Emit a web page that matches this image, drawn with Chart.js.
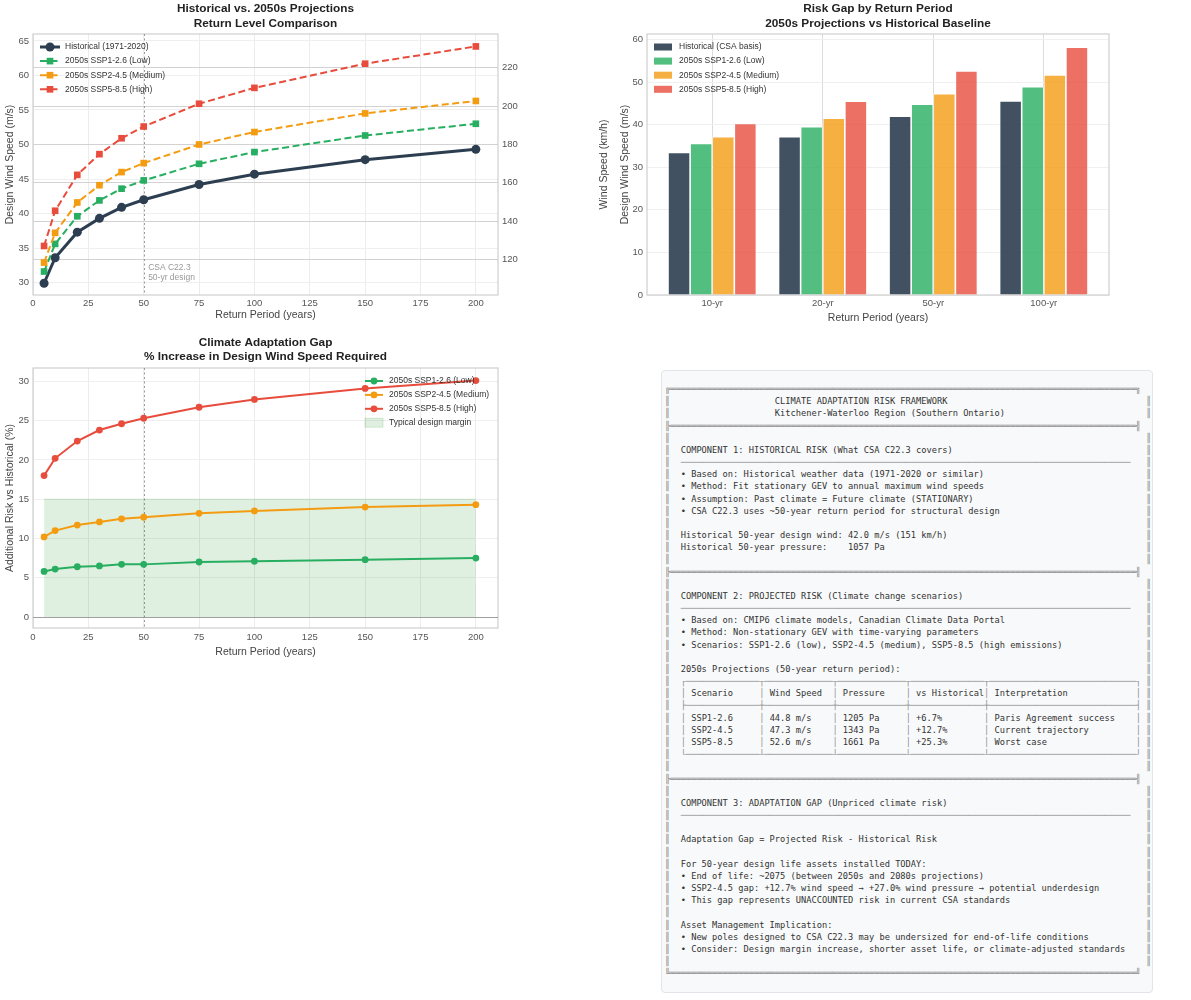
<!DOCTYPE html>
<html>
<head>
<meta charset="utf-8">
<title>Climate adaptation risk</title>
<script src="https://cdn.jsdelivr.net/npm/chart.js@4.4.1/dist/chart.umd.min.js"></script>
<style>
  html, body { margin: 0; padding: 0; background: #fff; }
  body { position: relative; width: 1191px; height: 1000px; overflow: hidden; }
  canvas { position: absolute; }
  #returnChart { left: 0; top: 0; }
  #gapChart { left: 600px; top: 0; }
  #pctChart { left: 0; top: 330px; }
  #framework {
    position: absolute; left: 661px; top: 370px; width: 492px; height: 623px;
    box-sizing: border-box; background: #f8f9fa; border: 1px solid #e1e4e8; border-radius: 4px;
  }
  #framework pre {
    position: absolute; left: 3px; top: 12px; margin: 0;
    font: 8.7px/12.17px "DejaVu Sans Mono", monospace; color: #333; white-space: pre;
  }
  #framework .b { color: #8a8a8a; }
</style>
</head>
<body>
<canvas id="returnChart" width="620" height="330"></canvas>
<canvas id="gapChart" width="591" height="330"></canvas>
<canvas id="pctChart" width="600" height="330"></canvas>
<div id="framework"><pre id="frameworkText"></pre></div>

<script>
// return periods (years) used by the line charts
const returnPeriods = [5, 10, 20, 30, 40, 50, 75, 100, 150, 200];

// design wind speed (m/s)
const historical = [29.9, 33.6, 37.3, 39.3, 40.9, 42.0, 44.2, 45.7, 47.8, 49.3];
const ssp126 = [31.6, 35.6, 39.6, 41.9, 43.6, 44.8, 47.2, 48.9, 51.3, 53.0];
const ssp245 = [32.9, 37.2, 41.6, 44.1, 46.0, 47.3, 50.0, 51.8, 54.5, 56.3];
const ssp585 = [35.3, 40.4, 45.6, 48.6, 50.9, 52.6, 55.9, 58.2, 61.7, 64.2];

// % increase vs historical
const pctSsp126 = [5.8, 6.1, 6.4, 6.5, 6.7, 6.7, 7.0, 7.1, 7.3, 7.5];
const pctSsp245 = [10.2, 11.0, 11.7, 12.1, 12.5, 12.7, 13.2, 13.5, 14.0, 14.3];
const pctSsp585 = [18.0, 20.2, 22.4, 23.8, 24.6, 25.3, 26.7, 27.7, 29.1, 30.1];
const marginPct = 15;
const marginSpan = [5, 200];

// bar chart
const barCategories = ["10-yr", "20-yr", "50-yr", "100-yr"];
const barHistorical = [33.5, 37.2, 42.0, 45.6];
const barSsp126 = [35.6, 39.5, 44.8, 48.9];
const barSsp245 = [37.2, 41.5, 47.3, 51.7];
const barSsp585 = [40.3, 45.5, 52.6, 58.2];

const csaPeriod = 50;
const KMH = 3.6;

const FONT = '"Liberation Sans", Arial, sans-serif';
Chart.defaults.font.family = FONT;
Chart.defaults.color = "#555";

const NAVY = "#2c3e50", GREEN = "#27ae60", ORANGE = "#f39c12", RED = "#e74c3c";
const rgba = (hex, a) => {
  const n = parseInt(hex.slice(1), 16);
  return `rgba(${n >> 16}, ${(n >> 8) & 255}, ${n & 255}, ${a})`;
};
const xy = (xs, ys) => ys.map((v, i) => ({ x: xs[i], y: v }));

// legend drawn inside the plot, matplotlib style
function drawLegend(chart, lg) {
  const { ctx, chartArea: a } = chart;
  const x0 = lg.right ? a.right - lg.dx : a.left + lg.dx;
  ctx.save();
  ctx.font = `${lg.size}px ${FONT}`;
  ctx.textAlign = "left";
  ctx.textBaseline = "middle";
  chart.data.datasets.forEach((ds, i) => {
    const y = a.top + lg.dy + i * lg.rowH;
    if (chart.config.type === "bar" || ds.fill) {
      ctx.fillStyle = ds.backgroundColor;
      ctx.fillRect(x0, y - lg.boxH / 2, lg.iconW, lg.boxH);
      if (ds.fill) {
        ctx.strokeStyle = "rgba(0, 128, 0, 0.15)";
        ctx.lineWidth = 1;
        ctx.strokeRect(x0, y - lg.boxH / 2, lg.iconW, lg.boxH);
      }
    } else {
      ctx.strokeStyle = ds.borderColor;
      ctx.lineWidth = ds.borderWidth;
      ctx.setLineDash(ds.borderDash || []);
      ctx.beginPath();
      ctx.moveTo(x0, y);
      ctx.lineTo(x0 + lg.iconW, y);
      ctx.stroke();
      ctx.setLineDash([]);
      const cx = x0 + lg.iconW / 2;
      const r = ds.pointRadius;
      ctx.fillStyle = ds.borderColor;
      if (ds.pointStyle === "rect") {
        const s = r * Math.SQRT1_2;
        ctx.fillRect(cx - s, y - s, 2 * s, 2 * s);
      } else {
        ctx.beginPath();
        ctx.arc(cx, y, r, 0, Math.PI * 2);
        ctx.fill();
      }
    }
    ctx.fillStyle = "#333";
    ctx.fillText(ds.label, x0 + lg.iconW + lg.gap, y);
  });
  ctx.restore();
}

function decor(cfg) {
  return {
    id: "decor",
    beforeDatasetsDraw(chart) {
      const { ctx, chartArea: a, scales } = chart;
      ctx.save();
      ctx.strokeStyle = "#cfcfcf";
      ctx.lineWidth = 1.2;
      ctx.strokeRect(a.left, a.top, a.right - a.left, a.bottom - a.top);
      (cfg.vlines || []).forEach((l) => {
        const px = Math.round(scales.x.getPixelForValue(l.value)) + 0.5;
        ctx.strokeStyle = l.color;
        ctx.lineWidth = l.width;
        ctx.setLineDash(l.dash || []);
        ctx.beginPath();
        ctx.moveTo(px, a.top);
        ctx.lineTo(px, a.bottom);
        ctx.stroke();
      });
      (cfg.hlines || []).forEach((l) => {
        const py = Math.round(scales.y.getPixelForValue(l.value)) + 0.5;
        ctx.strokeStyle = l.color;
        ctx.lineWidth = l.width;
        ctx.setLineDash(l.dash || []);
        ctx.beginPath();
        ctx.moveTo(a.left, py);
        ctx.lineTo(a.right, py);
        ctx.stroke();
      });
      ctx.restore();
    },
    afterDraw(chart) {
      const { ctx, chartArea: a, scales } = chart;
      ctx.save();
      ctx.fillStyle = "#222";
      ctx.font = `bold 11.8px ${FONT}`;
      ctx.textAlign = "center";
      ctx.textBaseline = "middle";
      const cx = (a.left + a.right) / 2;
      cfg.title.forEach((t, i) => ctx.fillText(t, cx, cfg.titleY + i * 14.5));

      (cfg.notes || []).forEach((n) => {
        ctx.font = `8.5px ${FONT}`;
        ctx.fillStyle = n.color;
        ctx.textAlign = "left";
        ctx.fillText(n.text, scales.x.getPixelForValue(n.x), scales.y.getPixelForValue(n.y));
      });

      if (cfg.rightTitle) {
        ctx.translate(cfg.rightTitle.x, (a.top + a.bottom) / 2);
        ctx.rotate(-Math.PI / 2);
        ctx.font = `10.5px ${FONT}`;
        ctx.fillStyle = "#444";
        ctx.textAlign = "center";
        ctx.fillText(cfg.rightTitle.text, 0, 0);
      }
      ctx.restore();
      drawLegend(chart, cfg.legend);
    },
  };
}

const tickFont = { size: 9.5 };
const titleFont = { size: 10.5 };
const baseOptions = {
  responsive: false,
  animation: false,
  devicePixelRatio: 1,
  events: [],
  plugins: { legend: { display: false }, title: { display: false }, tooltip: { enabled: false } },
};

// ---- chart 1: return levels ----
const yRange1 = [28.2, 66];
const lineDs = (label, values, color, opts) => ({
  label,
  data: xy(returnPeriods, values),
  borderColor: color,
  backgroundColor: color,
  pointBackgroundColor: color,
  pointBorderWidth: 0,
  tension: 0,
  fill: false,
  ...opts,
});

new Chart(document.getElementById("returnChart"), {
  type: "line",
  data: {
    datasets: [
      lineDs("Historical (1971-2020)", historical, NAVY, { borderWidth: 3, pointRadius: 4.5, pointStyle: "circle", order: 4 }),
      lineDs("2050s SSP1-2.6 (Low)", ssp126, GREEN, { borderWidth: 2, borderDash: [7, 3.5], pointRadius: 4.7, pointStyle: "rect", order: 3 }),
      lineDs("2050s SSP2-4.5 (Medium)", ssp245, ORANGE, { borderWidth: 2, borderDash: [7, 3.5], pointRadius: 4.7, pointStyle: "rect", order: 2 }),
      lineDs("2050s SSP5-8.5 (High)", ssp585, RED, { borderWidth: 2, borderDash: [7, 3.5], pointRadius: 4.7, pointStyle: "rect", order: 1 }),
    ],
  },
  options: {
    ...baseOptions,
    layout: { padding: { top: 34, left: 0, right: 0, bottom: 0 } },
    scales: {
      x: {
        type: "linear", min: 0, max: 210,
        ticks: { stepSize: 25, includeBounds: false, padding: 3, font: tickFont },
        grid: { color: "#ececec", drawTicks: false },
        border: { display: false },
        title: { display: true, text: "Return Period (years)", color: "#444", font: titleFont, padding: { top: 0, bottom: 8.5 } },
        afterFit: (s) => { s.height = 35; },
      },
      y: {
        position: "left", min: yRange1[0], max: yRange1[1],
        ticks: { stepSize: 5, includeBounds: false, padding: 4, font: tickFont },
        grid: { color: "#efefef", drawTicks: false },
        border: { display: false },
        title: { display: true, text: "Design Wind Speed (m/s)", color: "#444", font: titleFont, padding: { top: 4, bottom: 0 } },
        afterFit: (s) => { s.width = 33; },
      },
      y2: {
        position: "right", min: yRange1[0] * KMH, max: yRange1[1] * KMH,
        ticks: { stepSize: 20, includeBounds: false, padding: 4, font: tickFont },
        grid: { color: "#d2d2d2", drawTicks: false },
        border: { display: false },
        afterFit: (s) => { s.width = 122; },
      },
    },
  },
  plugins: [decor({
    title: ["Historical vs. 2050s Projections", "Return Level Comparison"],
    titleY: 9,
    vlines: [{ value: csaPeriod, color: "#9a9a9a", width: 1, dash: [2, 2.5] }],
    notes: [
      { text: "CSA C22.3", x: csaPeriod + 2, y: 32.1, color: "#999" },
      { text: "50-yr design", x: csaPeriod + 2, y: 30.7, color: "#999" },
    ],
    rightTitle: { text: "Wind Speed (km/h)", x: 604 },
    legend: { dx: 7, dy: 13, rowH: 14.1, iconW: 20, gap: 5, size: 8.5 },
  })],
});

// ---- chart 2: grouped bars ----
const barDs = (label, values, color, alpha) => ({
  label,
  data: values.map((v, i) => ({ x: i, y: v })),
  backgroundColor: rgba(color, alpha),
  borderColor: "rgba(255, 255, 255, 0.7)",
  borderWidth: 0.8,
  categoryPercentage: 0.8,
  barPercentage: 1.0,
});

new Chart(document.getElementById("gapChart"), {
  type: "bar",
  data: {
    datasets: [
      barDs("Historical (CSA basis)", barHistorical, NAVY, 0.9),
      barDs("2050s SSP1-2.6 (Low)", barSsp126, GREEN, 0.8),
      barDs("2050s SSP2-4.5 (Medium)", barSsp245, ORANGE, 0.8),
      barDs("2050s SSP5-8.5 (High)", barSsp585, RED, 0.8),
    ],
  },
  options: {
    ...baseOptions,
    layout: { padding: { top: 34, left: 0, right: 82, bottom: 0 } },
    scales: {
      x: {
        type: "linear", min: -0.59, max: barCategories.length - 0.41, offset: false,
        ticks: { stepSize: 1, includeBounds: false, padding: 3, font: tickFont, callback: (v) => barCategories[v] },
        grid: { color: "#dcdcdc", drawTicks: false, offset: false },
        border: { display: false },
        title: { display: true, text: "Return Period (years)", color: "#444", font: titleFont, padding: { top: 0, bottom: 5.5 } },
        afterFit: (s) => { s.height = 35; },
      },
      y: {
        min: 0, max: 61.3,
        ticks: { stepSize: 10, includeBounds: false, padding: 4, font: tickFont },
        grid: { color: "#f0f0f0", drawTicks: false },
        border: { display: false },
        title: { display: true, text: "Design Wind Speed (m/s)", color: "#444", font: titleFont, padding: { top: 18.7, bottom: 0 } },
        afterFit: (s) => { s.width = 47; },
      },
    },
  },
  plugins: [decor({
    title: ["Risk Gap by Return Period", "2050s Projections vs Historical Baseline"],
    titleY: 9,
    legend: { dx: 7, dy: 13, rowH: 14.1, iconW: 18, boxH: 7, gap: 7, size: 8.5 },
  })],
});

// ---- chart 3: % increase ----
new Chart(document.getElementById("pctChart"), {
  type: "line",
  data: {
    datasets: [
      lineDs("2050s SSP1-2.6 (Low)", pctSsp126, GREEN, { borderWidth: 2, pointRadius: 3.4, pointStyle: "circle", order: 3 }),
      lineDs("2050s SSP2-4.5 (Medium)", pctSsp245, ORANGE, { borderWidth: 2, pointRadius: 3.4, pointStyle: "circle", order: 2 }),
      lineDs("2050s SSP5-8.5 (High)", pctSsp585, RED, { borderWidth: 2, pointRadius: 3.4, pointStyle: "circle", order: 1 }),
      {
        label: "Typical design margin",
        data: marginSpan.map((x) => ({ x, y: marginPct })),
        backgroundColor: "rgba(0, 128, 0, 0.12)",
        borderColor: "rgba(0, 128, 0, 0.14)",
        borderWidth: 1,
        pointRadius: 0,
        fill: "origin",
        order: 10,
      },
    ],
  },
  options: {
    ...baseOptions,
    layout: { padding: { top: 38, left: 0, right: 102, bottom: 0 } },
    scales: {
      x: {
        type: "linear", min: 0, max: 210,
        ticks: { stepSize: 25, includeBounds: false, padding: 3.3, font: tickFont },
        grid: { color: "#ececec", drawTicks: false },
        border: { display: false },
        title: { display: true, text: "Return Period (years)", color: "#444", font: titleFont, padding: { top: 0, bottom: 1.7 } },
        afterFit: (s) => { s.height = 32; },
      },
      y: {
        min: -1.4, max: 31.7,
        ticks: { stepSize: 5, includeBounds: false, padding: 4, font: tickFont },
        grid: { color: "#efefef", drawTicks: false },
        border: { display: false },
        title: { display: true, text: "Additional Risk vs Historical (%)", color: "#444", font: titleFont, padding: { top: 4, bottom: 0 } },
        afterFit: (s) => { s.width = 33; },
      },
    },
  },
  plugins: [decor({
    title: ["Climate Adaptation Gap", "% Increase in Design Wind Speed Required"],
    titleY: 12.7,
    vlines: [{ value: csaPeriod, color: "#9a9a9a", width: 1, dash: [2, 2.5] }],
    hlines: [{ value: 0, color: "#a0a0a0", width: 1 }],
    legend: { right: true, dx: 133, dy: 13, rowH: 13.9, iconW: 18, boxH: 9, gap: 6, size: 8.5 },
  })],
});

// ---- text panel ----
const rowW = 93;
const ruleW = 91;
const row = (s) => "║" + s.padEnd(rowW - 2, " ") + "║";
const rule = (l, r) => l + "═".repeat(ruleW - 2) + r;
const hr = "  " + "─".repeat(86);
const tline = (l, m, r) => "  " + l + ["─".repeat(14), "─".repeat(13), "─".repeat(13), "─".repeat(14), "─".repeat(28)].join(m) + r;
const trow = (cells) => "  │" + cells.map((c, i) => (" " + c).padEnd([14, 13, 13, 14, 28][i], " ")).join("│") + "│";

const panelLines = [
  rule("╔", "╗"),
  row("                    CLIMATE ADAPTATION RISK FRAMEWORK"),
  row("                    Kitchener-Waterloo Region (Southern Ontario)"),
  rule("╠", "╣"),
  row(""),
  row("  COMPONENT 1: HISTORICAL RISK (What CSA C22.3 covers)"),
  row(hr),
  row("  • Based on: Historical weather data (1971-2020 or similar)"),
  row("  • Method: Fit stationary GEV to annual maximum wind speeds"),
  row("  • Assumption: Past climate = Future climate (STATIONARY)"),
  row("  • CSA C22.3 uses ~50-year return period for structural design"),
  row(""),
  row("  Historical 50-year design wind: 42.0 m/s (151 km/h)"),
  row("  Historical 50-year pressure:    1057 Pa"),
  row(""),
  rule("╠", "╣"),
  row(""),
  row("  COMPONENT 2: PROJECTED RISK (Climate change scenarios)"),
  row(hr),
  row("  • Based on: CMIP6 climate models, Canadian Climate Data Portal"),
  row("  • Method: Non-stationary GEV with time-varying parameters"),
  row("  • Scenarios: SSP1-2.6 (low), SSP2-4.5 (medium), SSP5-8.5 (high emissions)"),
  row(""),
  row("  2050s Projections (50-year return period):"),
  row(tline("┌", "┬", "┐")),
  row(trow(["Scenario", "Wind Speed", "Pressure", "vs Historical", "Interpretation"])),
  row(tline("├", "┼", "┤")),
  row(trow(["SSP1-2.6", "44.8 m/s", "1205 Pa", "+6.7%", "Paris Agreement success"])),
  row(trow(["SSP2-4.5", "47.3 m/s", "1343 Pa", "+12.7%", "Current trajectory"])),
  row(trow(["SSP5-8.5", "52.6 m/s", "1661 Pa", "+25.3%", "Worst case"])),
  row(tline("└", "┴", "┘")),
  row(""),
  rule("╠", "╣"),
  row(""),
  row("  COMPONENT 3: ADAPTATION GAP (Unpriced climate risk)"),
  row(hr),
  row(""),
  row("  Adaptation Gap = Projected Risk - Historical Risk"),
  row(""),
  row("  For 50-year design life assets installed TODAY:"),
  row("  • End of life: ~2075 (between 2050s and 2080s projections)"),
  row("  • SSP2-4.5 gap: +12.7% wind speed → +27.0% wind pressure → potential underdesign"),
  row("  • This gap represents UNACCOUNTED risk in current CSA standards"),
  row(""),
  row("  Asset Management Implication:"),
  row("  • New poles designed to CSA C22.3 may be undersized for end-of-life conditions"),
  row("  • Consider: Design margin increase, shorter asset life, or climate-adjusted standards"),
  row(""),
  rule("╚", "╝"),
];

const esc = (s) => s.replace(/&/g, "&amp;").replace(/</g, "&lt;").replace(/>/g, "&gt;");
document.getElementById("frameworkText").innerHTML = panelLines
  .map((l) => esc(l).replace(/[\u2500-\u257F]+/g, (m) => `<span class="b">${m}</span>`))
  .join("\n");
</script>
</body>
</html>
